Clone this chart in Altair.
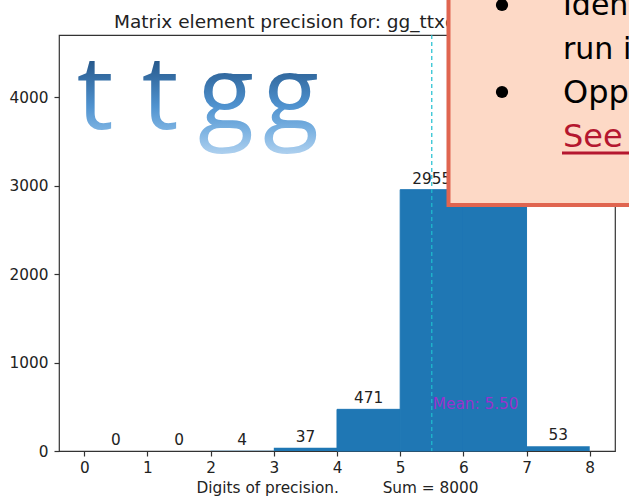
import altair as alt
import pandas as pd

# ---- data ----
bin_start = [0, 1, 2, 3, 4, 5, 6, 7]
bin_end = [1, 2, 3, 4, 5, 6, 7, 8]
counts = [0, 0, 4, 37, 471, 2955, 4480, 53]
mean_value = 5.50
mean_label_y = 530
x_ticks = [0, 1, 2, 3, 4, 5, 6, 7, 8]
y_ticks = [0, 1000, 2000, 3000, 4000]
title_text = "Matrix element precision for: gg_ttxgg (double precision)"
xlabel_text = "Digits of precision.\u00a0\u00a0\u00a0\u00a0\u00a0\u00a0\u00a0\u00a0\u00a0Sum = 8000"

df = pd.DataFrame({"start": bin_start, "end": bin_end, "count": counts})
df["mid"] = (df["start"] + df["end"]) / 2
df["label"] = df["count"].astype(str)
mean_df = pd.DataFrame({"x": [mean_value], "y": [mean_label_y],
                        "label": [f"Mean: {mean_value:.2f}"]})
one = pd.DataFrame({"k": [0]})

W, H = 556, 416
L, T = 59, 35
FONT = "DejaVu Sans"
FS = 15.3
BLUE = "#1f77b4"

xs = alt.Scale(domain=[-0.4, 8.4], nice=False, zero=False)
ys = alt.Scale(domain=[0, 4704], nice=False)

base = alt.Chart(df)

bars = base.mark_rect(color=BLUE, stroke=BLUE, strokeWidth=1).encode(
    x=alt.X("start:Q", scale=xs,
            axis=alt.Axis(values=x_ticks, title=xlabel_text, format="d")),
    x2="end:Q",
    y=alt.Y("count:Q", scale=ys,
            axis=alt.Axis(values=y_ticks, title=None, format="d")),
    y2=alt.datum(0),
    strokeOpacity=alt.condition("datum.count > 100", alt.value(1), alt.value(0)),
)

bar_labels = base.mark_text(font=FONT, fontSize=FS, color="#222",
                            baseline="bottom", dy=-3).encode(
    x=alt.X("mid:Q", scale=xs), y=alt.Y("count:Q", scale=ys), text="label:N")

mean_rule = alt.Chart(mean_df).mark_rule(color="#1fbfcf", strokeDash=[4, 3],
                                         strokeWidth=1.2).encode(
    x=alt.X("x:Q", scale=xs))

mean_text = alt.Chart(mean_df).mark_text(font=FONT, fontSize=FS, color="#9932cc",
                                         align="left", baseline="middle", dx=1).encode(
    x=alt.X("x:Q", scale=xs), y=alt.Y("y:Q", scale=ys), text="label:N")

title = alt.Chart(one).mark_text(text=title_text, font=FONT, fontSize=18.5,
                                 color="#222", align="left",
                                 baseline="alphabetic").encode(
    x=alt.value(114 - L), y=alt.value(28 - T))

grad = alt.LinearGradient(
    gradient="linear", x1=0, y1=0, x2=0, y2=1,
    stops=[alt.GradientStop(offset=0.0, color="#1c4a7a"),
           alt.GradientStop(offset=0.3, color="#27598c"),
           alt.GradientStop(offset=0.62, color="#4f92cf"),
           alt.GradientStop(offset=0.8, color="#7db3e2"),
           alt.GradientStop(offset=1.0, color="#b8d6f1")])

letters = []
for ch, cx in [("t", 95), ("t", 160), ("g", 226), ("g", 291)]:
    letters.append(
        alt.Chart(one).mark_text(text=ch, font="Open Sans", fontSize=103,
                                 fill=grad, align="center", baseline="alphabetic").encode(
            x=alt.value(cx - L), y=alt.value(129 - T)))

box = alt.Chart(one).mark_rect(fill="#fdd9c6", stroke="#e06550", strokeWidth=4).encode(
    x=alt.value(448.5 - L), x2=alt.value(700 - L),
    y=alt.value(-80), y2=alt.value(205 - T))

BFONT = "DejaVu Sans"
box_items = []
for txt, by, col, fs in [("Identify", 15, "#000", 30), ("run in", 59, "#000", 30),
                         ("Opportunity", 103, "#000", 32),
                         ("See more", 147, "#b5172f", 32)]:
    box_items.append(
        alt.Chart(one).mark_text(text=txt, font=BFONT, fontSize=fs, color=col,
                                 align="left", baseline="alphabetic").encode(
            x=alt.value(563 - L), y=alt.value(by - T)))
for by in [5, 92]:
    box_items.append(
        alt.Chart(one).mark_circle(color="#000", opacity=1, size=150).encode(
            x=alt.value(502 - L), y=alt.value(by - T)))
underline = alt.Chart(one).mark_rule(color="#b5172f", strokeWidth=3).encode(
    x=alt.value(562 - L), x2=alt.value(640 - L), y=alt.value(153 - T))

chart = alt.layer(bars, bar_labels, mean_rule, mean_text, title, *letters, box,
                  *box_items, underline).properties(
    width=W, height=H,
    autosize=alt.AutoSizeParams(type="none"),
    padding={"left": L, "top": T, "right": 629 - L - W, "bottom": 500 - T - H},
).configure_view(stroke="#333", strokeWidth=1.2).configure_axis(
    domain=False, grid=False, tickColor="#333", tickSize=5, tickWidth=1.2,
    labelFont=FONT, labelFontSize=FS, labelColor="#222",
    titleFont=FONT, titleFontSize=FS, titleFontWeight="normal", titleColor="#222",
).configure_axisX(labelPadding=4, titlePadding=5).configure_axisY(labelPadding=6)

chart.save("out.html", embed_options={"renderer": "svg", "actions": False})
